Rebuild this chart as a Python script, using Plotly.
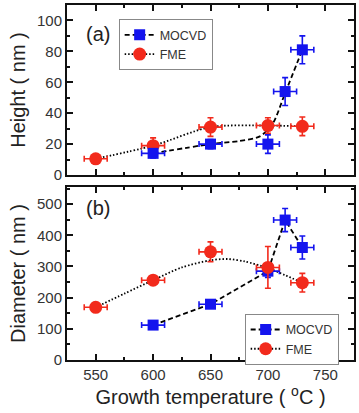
import plotly.graph_objects as go

# ---------------- data ----------------
temps_mocvd = [600, 650, 700, 715, 730]
temps_fme = [550, 600, 650, 700, 730]
temp_err = [10, 10, 10, 10, 10]

height_mocvd = [14, 20, 20, 54, 81]
height_mocvd_err = [3, 3, 6, 9, 9]
height_fme = [10.5, 19, 31, 32, 31.5]
height_fme_err = [2, 5, 6, 5, 6]

diam_mocvd = [112, 179, 285, 449, 361]
diam_mocvd_err = [8, 10, 20, 37, 37]
diam_fme = [169, 256, 347, 297, 248]
diam_fme_err = [8, 10, 32, 67, 30]

# guide-line curves
height_mocvd_curve_t = [600, 650, 675, 693, 704, 715, 730]
height_mocvd_curve_v = [14, 20, 22, 25, 33, 53, 81]
diam_fme_curve_t = [550, 575, 600, 625, 650, 665, 680, 700, 715, 730]
diam_fme_curve_v = [169, 213, 256, 297, 320, 324, 316, 295, 272, 248]

BLUE = "#1414ee"
RED = "#f22a1c"
FONT = "Liberation Sans, Arial, sans-serif"

fig = go.Figure()

def markers(x, y, ey, color, symbol, size, xa, ya):
    fig.add_trace(go.Scatter(
        x=x, y=y, mode="markers", xaxis=xa, yaxis=ya, showlegend=False,
        marker=dict(color=color, symbol=symbol, size=size),
        error_y=dict(type="data", array=ey, color=color, thickness=1.6, width=3),
        error_x=dict(type="data", array=temp_err, color=color, thickness=1.6, width=3),
    ))

def line(x, y, dash, xa, ya, shape="spline"):
    fig.add_trace(go.Scatter(
        x=x, y=y, mode="lines", xaxis=xa, yaxis=ya, showlegend=False,
        line=dict(color="black", width=1.8, dash=dash, shape=shape, smoothing=0.8),
        hoverinfo="skip",
    ))

DASH = "5px,3px"
DOT = "1.5px,2px"

# panel (a)
line(height_mocvd_curve_t, height_mocvd_curve_v, DASH, "x", "y")
line(temps_fme, height_fme, DOT, "x", "y")
markers(temps_fme, height_fme, height_fme_err, RED, "circle", 13, "x", "y")
markers(temps_mocvd, height_mocvd, height_mocvd_err, BLUE, "square", 11, "x", "y")

# panel (b)
line(temps_mocvd, diam_mocvd, DASH, "x2", "y2", shape="linear")
line(diam_fme_curve_t, diam_fme_curve_v, DOT, "x2", "y2")
markers(temps_mocvd, diam_mocvd, diam_mocvd_err, BLUE, "square", 11, "x2", "y2")
markers(temps_fme, diam_fme, diam_fme_err, RED, "circle", 13, "x2", "y2")

# legend entries
for lg, xa, ya in (("legend", "x", "y"), ("legend2", "x2", "y2")):
    fig.add_trace(go.Scatter(x=[None], y=[None], mode="lines+markers", name="MOCVD",
                             legend=lg, xaxis=xa, yaxis=ya,
                             line=dict(color="black", width=1.8, dash=DASH),
                             marker=dict(color=BLUE, symbol="square", size=11)))
    fig.add_trace(go.Scatter(x=[None], y=[None], mode="lines+markers", name="FME",
                             legend=lg, xaxis=xa, yaxis=ya,
                             line=dict(color="black", width=1.8, dash=DOT),
                             marker=dict(color=RED, symbol="circle", size=13)))

axis_common = dict(showline=True, linecolor="#111", linewidth=2, mirror="ticks",
                   ticks="inside", ticklen=6, tickwidth=1.6, tickcolor="#111",
                   showgrid=False, zeroline=False,
                   tickfont=dict(family=FONT, size=15, color="#333"))

xrange = [525, 775]
legend_common = dict(xanchor="left", yanchor="top",
                     bgcolor="white", bordercolor="#888", borderwidth=1,
                     font=dict(family=FONT, size=12.5, color="#333"),
                     tracegroupgap=0, itemwidth=30)
fig.update_layout(
    width=359, height=413,
    margin=dict(l=67, r=3, t=5, b=53),
    paper_bgcolor="white", plot_bgcolor="white",
    font=dict(family=FONT, color="#222"),
    xaxis=dict(**axis_common, domain=[0, 1], anchor="y", range=xrange, dtick=50,
               showticklabels=False,
               minor=dict(dtick=25, ticks="inside", ticklen=3, tickcolor="#111")),
    yaxis=dict(**axis_common, domain=[0.5211, 1], anchor="x", range=[0, 110], dtick=20,
               minor=dict(dtick=10, ticks="inside", ticklen=3, tickcolor="#111"),
               title=dict(text="Height ( nm )", font=dict(family=FONT, size=20, color="#222"),
                          standoff=6)),
    xaxis2=dict(**axis_common, domain=[0, 1], anchor="y2", range=xrange, dtick=50,
                minor=dict(dtick=25, ticks="inside", ticklen=3, tickcolor="#111"),
                title=dict(text="Growth temperature ( <sup>o</sup>C )",
                           font=dict(family=FONT, size=20, color="#222"), standoff=4)),
    yaxis2=dict(**axis_common, domain=[0, 0.4873], anchor="x2", range=[0, 555], dtick=100,
                minor=dict(dtick=50, ticks="inside", ticklen=3, tickcolor="#111"),
                title=dict(text="Diameter ( nm )", font=dict(family=FONT, size=20, color="#222"),
                           standoff=6)),
    legend=dict(x=0.18, y=0.96, **legend_common),
    legend2=dict(x=0.619, y=0.13, **legend_common),
    annotations=[
        dict(text="(a)", xref="paper", yref="paper", x=0.06, y=0.955, xanchor="left",
             yanchor="top", showarrow=False, font=dict(family=FONT, size=20, color="#222")),
        dict(text="(b)", xref="paper", yref="paper", x=0.06, y=0.465, xanchor="left",
             yanchor="top", showarrow=False, font=dict(family=FONT, size=20, color="#222")),
    ],
)

fig.write_html("out.html")
